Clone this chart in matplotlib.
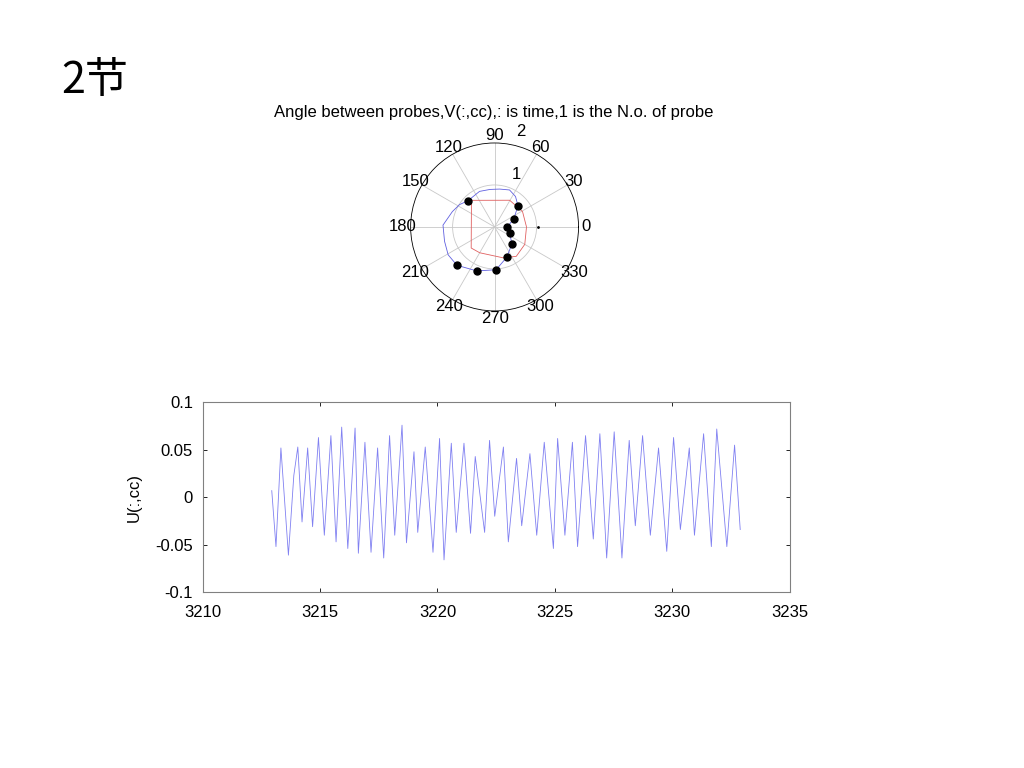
import numpy as np
import matplotlib
matplotlib.use("Agg")
import matplotlib.pyplot as plt

plt.rcParams['font.family'] = ['Liberation Sans', 'DejaVu Sans']

# polar data (angle in degrees, radius)
dot_theta = [135.4, 42, 22, -1.5, -23, -44.5, -68.4, -88, -112, -134.5]
dot_r = [0.89, 0.75, 0.49, 0.29, 0.39, 0.58, 0.78, 1.02, 1.13, 1.28]

blue_theta = [135.4, 113, 97, 82.5, 68, 55.5, 42, 22, -1.5, -23, -44.5, -68.4,
              -88, -112, -134.5, -149, -164, 178, 160, 147.5, 135.4]
blue_r = [0.89, 0.92, 0.90, 0.91, 0.95, 0.88, 0.75, 0.49, 0.29, 0.39, 0.58, 0.78,
          1.02, 1.13, 1.28, 1.29, 1.24, 1.23, 1.07, 0.99, 0.89]

red_theta = [131, 60.6, 29, 0, -30, -53.6, -75, -120, -138, 131]
red_r = [0.84, 0.73, 0.76, 0.76, 0.83, 0.87, 0.76, 0.71, 0.75, 0.84]

# time series (peaks and troughs)
t = [3212.94, 3213.12, 3213.33, 3213.65, 3213.88, 3214.05, 3214.23, 3214.47,
     3214.68, 3214.93, 3215.18, 3215.46, 3215.68, 3215.92, 3216.18, 3216.49,
     3216.63, 3216.91, 3217.17, 3217.45, 3217.71, 3217.96, 3218.18, 3218.49,
     3218.68, 3219.00, 3219.16, 3219.48, 3219.81, 3220.09, 3220.28, 3220.59,
     3220.80, 3221.13, 3221.41, 3221.61, 3222.01, 3222.22, 3222.44, 3222.81,
     3223.02, 3223.37, 3223.59, 3223.94, 3224.23, 3224.55, 3224.94, 3225.12,
     3225.43, 3225.75, 3225.97, 3226.31, 3226.64, 3226.92, 3227.21, 3227.53,
     3227.86, 3228.17, 3228.43, 3228.74, 3229.07, 3229.42, 3229.77, 3230.06,
     3230.35, 3230.73, 3230.95, 3231.34, 3231.67, 3231.90, 3232.33, 3232.66,
     3232.90]
u = [0.007, -0.052, 0.052, -0.061, 0.023, 0.053, -0.026, 0.052,
     -0.031, 0.063, -0.040, 0.065, -0.047, 0.074, -0.054, 0.073,
     -0.059, 0.058, -0.058, 0.052, -0.064, 0.065, -0.040, 0.076,
     -0.048, 0.048, -0.037, 0.053, -0.058, 0.062, -0.066, 0.057,
     -0.037, 0.057, -0.038, 0.043, -0.037, 0.060, -0.020, 0.053,
     -0.047, 0.041, -0.030, 0.046, -0.040, 0.058, -0.054, 0.062,
     -0.040, 0.058, -0.052, 0.065, -0.044, 0.067, -0.064, 0.069,
     -0.064, 0.060, -0.030, 0.065, -0.040, 0.052, -0.057, 0.063,
     -0.034, 0.052, -0.040, 0.067, -0.052, 0.072, -0.052, 0.055,
     -0.034]

fs = 12

fig = plt.figure(figsize=(10.24, 7.68), dpi=100)

fig.text(0.060, 0.895, '2节', fontsize=31,
         family=['Noto Sans CJK SC', 'DejaVu Sans'], va='center')

# polar plot
ax = fig.add_axes([0.401, 0.595, 0.164, 0.219], projection='polar')
ax.set_ylim(0, 2)
ax.plot(np.radians(red_theta), red_r, color='#e06060', lw=0.6)
ax.plot(np.radians(blue_theta), blue_r, color='#6060e0', lw=0.6)
ax.plot(np.radians(dot_theta), dot_r, 'o', color='black', ms=5)
ax.plot([0], [1.03], '.', color='black', ms=2)
ax.set_rgrids([1], labels=[''])
ax.set_thetagrids(np.arange(0, 360, 30), labels=[str(a) for a in range(0, 360, 30)],
                  fontsize=fs)
ax.tick_params(axis='x', pad=-5)
ax.grid(True, color='#c8c8c8', lw=0.6, ls='-')
ax.spines['polar'].set_color('black')
ax.spines['polar'].set_linewidth(0.6)
ax.text(np.radians(68), 1.36, '1', fontsize=fs, ha='center', va='center')
ax.text(np.radians(74.7), 2.35, '2', fontsize=fs, ha='center', va='center')
fig.text(0.482, 0.853, 'Angle between probes,V(:,cc),: is time,1 is the N.o. of probe',
         fontsize=fs, ha='center', va='center')

# time series
ax2 = fig.add_axes([0.198, 0.229, 0.573, 0.247])
ax2.plot(t, u, color='#6060ee', lw=0.6, alpha=0.8)
ax2.set_xlim(3210, 3235)
ax2.set_ylim(-0.1, 0.1)
ax2.set_xticks(np.arange(3210, 3236, 5))
ax2.set_yticks([-0.1, -0.05, 0, 0.05, 0.1])
ax2.set_yticklabels(['-0.1', '-0.05', '0', '0.05', '0.1'])
ax2.tick_params(direction='in', length=3, width=0.6, labelsize=fs,
                top=True, right=True)
ax2.tick_params(axis='x', pad=9)
ax2.tick_params(axis='y', pad=7)
for s in ax2.spines.values():
    s.set_color('#808080')
    s.set_linewidth(0.8)
ax2.set_ylabel('U(:,cc)', fontsize=fs, labelpad=10)

fig.savefig('out.png', dpi=100)
